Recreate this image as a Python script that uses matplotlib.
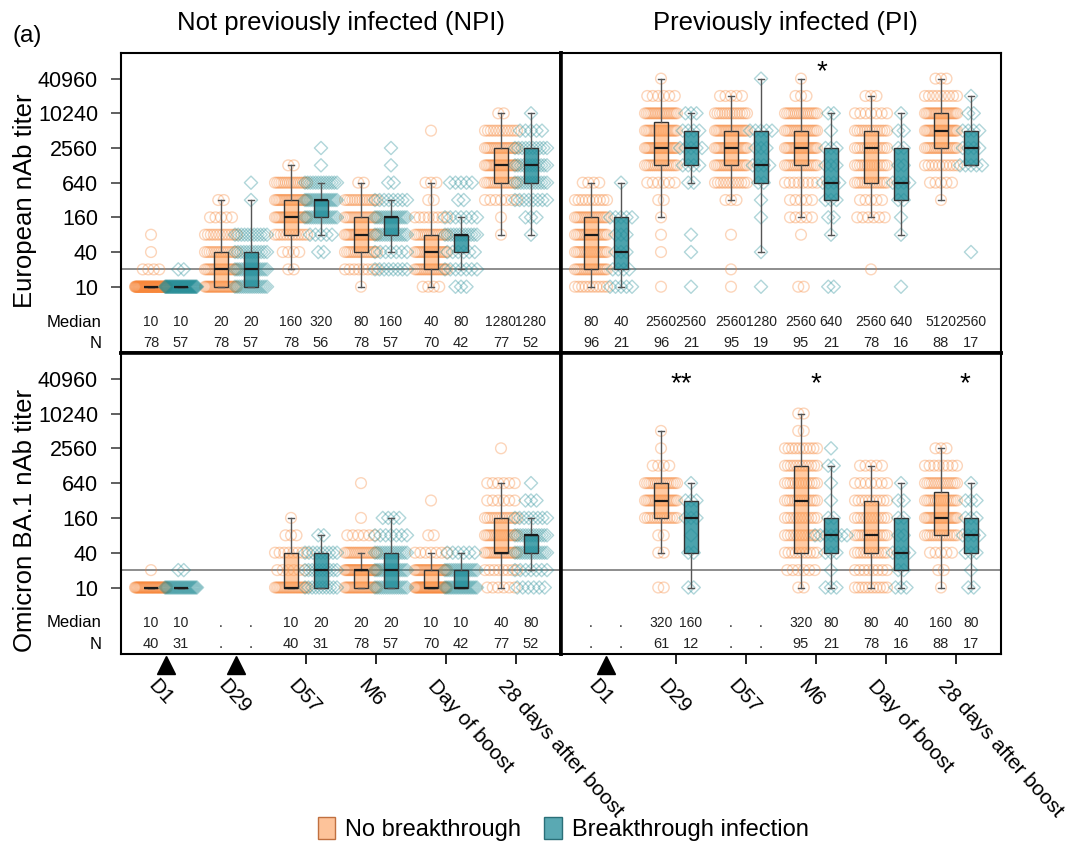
import numpy as np
import matplotlib.pyplot as plt
from matplotlib import transforms
from matplotlib.patches import Patch

plt.rcParams['font.family'] = ['Liberation Sans', 'DejaVu Sans']

timepoints = ['D1', 'D29', 'D57', 'M6', 'Day of boost', '28 days after boost']
ytick_vals = [10, 40, 160, 640, 2560, 10240, 40960]

# ---- European, not previously infected ----
eu_npi_nb_pts = [
    {10: 72, 20: 4, 40: 1, 80: 1},
    {10: 25, 20: 19, 40: 15, 80: 12, 160: 5, 320: 2},
    {20: 2, 40: 4, 80: 12, 160: 21, 320: 21, 640: 16, 1280: 2},
    {10: 1, 20: 8, 40: 16, 80: 20, 160: 17, 320: 14, 640: 2},
    {10: 4, 20: 18, 40: 18, 80: 16, 160: 8, 320: 2, 640: 3, 5120: 1},
    {80: 1, 160: 1, 320: 7, 640: 16, 1280: 20, 2560: 18, 5120: 12, 10240: 2},
]
eu_npi_bt_pts = [
    {10: 55, 20: 2},
    {10: 16, 20: 16, 40: 12, 80: 11, 320: 1, 640: 1},
    {40: 2, 80: 5, 160: 16, 320: 18, 640: 13, 1280: 1, 2560: 1},
    {20: 8, 40: 7, 80: 14, 160: 16, 320: 8, 640: 2, 1280: 1, 2560: 1},
    {10: 3, 20: 7, 40: 6, 80: 12, 160: 7, 320: 2, 640: 5},
    {80: 1, 160: 3, 320: 8, 640: 12, 1280: 12, 2560: 10, 5120: 5, 10240: 1},
]
# (whisker low, q1, median, q3, whisker high)
eu_npi_nb_box = [(10, 10, 10, 10, 10), (10, 10, 20, 40, 320), (20, 80, 160, 320, 1280),
                 (10, 40, 80, 160, 640), (10, 20, 40, 80, 640), (80, 640, 1280, 2560, 10240)]
eu_npi_bt_box = [(10, 10, 10, 10, 10), (10, 10, 20, 40, 320), (80, 160, 320, 320, 640),
                 (40, 80, 160, 160, 320), (20, 40, 80, 80, 160), (80, 640, 1280, 2560, 10240)]
eu_npi_nb_med = ['10', '20', '160', '80', '40', '1280']
eu_npi_bt_med = ['10', '20', '320', '160', '80', '1280']
eu_npi_nb_n = ['78', '78', '78', '78', '70', '77']
eu_npi_bt_n = ['57', '57', '56', '57', '42', '52']

# ---- European, previously infected ----
eu_pi_nb_pts = [
    {10: 10, 20: 18, 40: 18, 80: 18, 160: 18, 320: 10, 640: 4},
    {10: 1, 40: 1, 80: 1, 160: 1, 320: 2, 640: 6, 1280: 16, 2560: 22, 5120: 20, 10240: 19, 20480: 6, 40960: 1},
    {10: 1, 20: 1, 80: 1, 320: 3, 640: 12, 1280: 18, 2560: 20, 5120: 20, 10240: 14, 20480: 5},
    {10: 2, 80: 1, 160: 5, 320: 5, 640: 8, 1280: 16, 2560: 20, 5120: 18, 10240: 16, 20480: 3, 40960: 1},
    {20: 1, 160: 6, 320: 5, 640: 14, 1280: 14, 2560: 14, 5120: 14, 10240: 7, 20480: 3},
    {320: 1, 640: 5, 1280: 10, 2560: 18, 5120: 22, 10240: 20, 20480: 9, 40960: 3},
]
eu_pi_bt_pts = [
    {10: 5, 20: 4, 40: 3, 80: 3, 160: 5, 640: 1},
    {10: 1, 40: 1, 80: 1, 640: 2, 1280: 4, 2560: 5, 5120: 4, 10240: 3},
    {10: 1, 40: 1, 160: 1, 320: 1, 640: 2, 1280: 4, 2560: 3, 5120: 5, 40960: 1},
    {10: 2, 80: 1, 160: 2, 320: 3, 640: 4, 1280: 3, 2560: 3, 5120: 1, 10240: 2},
    {10: 1, 80: 1, 160: 1, 320: 2, 640: 4, 1280: 2, 2560: 2, 5120: 2, 10240: 1},
    {40: 1, 1280: 5, 2560: 4, 5120: 4, 10240: 2, 20480: 1},
]
eu_pi_nb_box = [(10, 20, 80, 160, 640), (160, 1280, 2560, 7240, 40960), (320, 1280, 2560, 5120, 20480),
                (160, 1280, 2560, 5120, 40960), (160, 640, 2560, 5120, 20480), (320, 2560, 5120, 10240, 40960)]
eu_pi_bt_box = [(10, 20, 40, 160, 640), (640, 1280, 2560, 5120, 10240), (40, 640, 1280, 5120, 40960),
                (80, 320, 640, 2560, 10240), (80, 320, 640, 2560, 10240), (1280, 1280, 2560, 5120, 20480)]
eu_pi_nb_med = ['80', '2560', '2560', '2560', '2560', '5120']
eu_pi_bt_med = ['40', '2560', '1280', '640', '640', '2560']
eu_pi_nb_n = ['96', '96', '95', '95', '78', '88']
eu_pi_bt_n = ['21', '21', '19', '21', '16', '17']

# ---- Omicron BA.1, not previously infected ----
om_npi_nb_pts = [
    {10: 39, 20: 1},
    {},
    {10: 22, 20: 6, 40: 8, 80: 3, 160: 1},
    {10: 24, 20: 28, 40: 18, 80: 6, 160: 1, 640: 1},
    {10: 36, 20: 24, 40: 7, 80: 2, 320: 1},
    {10: 6, 20: 8, 40: 18, 80: 18, 160: 14, 320: 6, 640: 6, 2560: 1},
]
om_npi_bt_pts = [
    {10: 29, 20: 2},
    {},
    {10: 10, 20: 10, 40: 9, 80: 2},
    {10: 16, 20: 16, 40: 14, 80: 7, 160: 4},
    {10: 20, 20: 16, 40: 6},
    {10: 6, 20: 7, 40: 14, 80: 13, 160: 8, 320: 3, 640: 1},
]
om_npi_nb_box = [(10, 10, 10, 10, 10), None, (10, 10, 10, 40, 160),
                 (10, 10, 20, 20, 40), (10, 10, 10, 20, 40), (10, 40, 40, 160, 640)]
om_npi_bt_box = [(10, 10, 10, 10, 10), None, (10, 10, 20, 40, 80),
                 (10, 10, 20, 40, 160), (10, 10, 10, 20, 40), (20, 40, 80, 80, 160)]
om_npi_nb_med = ['10', '.', '10', '20', '10', '40']
om_npi_bt_med = ['10', '.', '20', '20', '10', '80']
om_npi_nb_n = ['40', '.', '40', '78', '70', '77']
om_npi_bt_n = ['31', '.', '31', '57', '42', '52']

# ---- Omicron BA.1, previously infected ----
om_pi_nb_pts = [
    {},
    {10: 2, 40: 2, 80: 2, 160: 14, 320: 19, 640: 16, 1280: 4, 2560: 1, 5120: 1},
    {},
    {10: 2, 20: 6, 40: 10, 80: 12, 160: 12, 320: 14, 640: 13, 1280: 12, 2560: 10, 5120: 2, 10240: 2},
    {10: 10, 20: 8, 40: 12, 80: 14, 160: 12, 320: 10, 640: 7, 1280: 5},
    {10: 1, 20: 2, 40: 5, 80: 14, 160: 20, 320: 16, 640: 15, 1280: 8, 2560: 3},
]
om_pi_bt_pts = [
    {},
    {10: 2, 40: 2, 80: 1, 160: 3, 320: 3, 640: 1},
    {},
    {10: 3, 20: 1, 40: 3, 80: 7, 160: 2, 320: 1, 640: 1, 1280: 2, 2560: 1},
    {10: 3, 20: 2, 40: 4, 80: 2, 160: 2, 320: 2, 640: 1},
    {10: 2, 20: 1, 40: 3, 80: 4, 160: 3, 320: 3, 640: 1},
]
om_pi_nb_box = [None, (40, 160, 320, 640, 5120), None,
                (10, 40, 320, 1280, 10240), (10, 40, 80, 320, 1280), (10, 80, 160, 453, 2560)]
om_pi_bt_box = [None, (10, 40, 160, 320, 640), None,
                (10, 40, 80, 160, 1280), (10, 20, 40, 160, 640), (10, 40, 80, 160, 640)]
om_pi_nb_med = ['.', '320', '.', '320', '80', '160']
om_pi_bt_med = ['.', '160', '.', '80', '40', '80']
om_pi_nb_n = ['.', '61', '.', '95', '78', '88']
om_pi_bt_n = ['.', '12', '.', '21', '16', '17']

nb_color = '#f7873a'
bt_color = '#1f8a94'
group_px = 70.0          # pixel width of one timepoint group
offset = 15 / group_px   # half distance between the two boxes


def swarm(center, n):
    if n <= 1:
        return np.array([center] * n)
    step = min(5.5, 32.0 / (n - 1)) / group_px
    return center + (np.arange(n) - (n - 1) / 2) * step


def draw_points(ax, pts, sign, marker, color, size):
    for i, counts in enumerate(pts):
        for val, n in counts.items():
            xs = swarm(i + sign * offset, n)
            ax.scatter(xs, np.log2([val] * n), marker=marker, s=size, facecolors='none',
                       edgecolors=color, linewidths=1.0, alpha=0.35, zorder=2)


def draw_boxes(ax, boxes, sign, face):
    stats, pos = [], []
    for i, b in enumerate(boxes):
        if b is None:
            continue
        lo, q1, med, q3, hi = np.log2(b)
        stats.append(dict(whislo=lo, q1=q1, med=med, q3=q3, whishi=hi))
        pos.append(i + sign * offset)
    ax.bxp(stats, positions=pos, widths=0.19, capwidths=0.085, showfliers=False,
           patch_artist=True, manage_ticks=False, zorder=3,
           boxprops=dict(facecolor=face, edgecolor='#333333', linewidth=1.0),
           medianprops=dict(color='#1a1a1a', linewidth=1.6),
           whiskerprops=dict(color='#555555', linewidth=1.0),
           capprops=dict(color='#555555', linewidth=1.0))


def draw_panel(ax, nb_pts, bt_pts, nb_box, bt_box, nb_med, bt_med, nb_n, bt_n):
    draw_points(ax, nb_pts, -1, 'o', nb_color, 60)
    draw_points(ax, bt_pts, 1, 'D', bt_color, 45)
    draw_boxes(ax, nb_box, -1, (1.0, 0.63, 0.35, 0.55))
    draw_boxes(ax, bt_box, 1, (0.12, 0.55, 0.6, 0.8))
    ax.axhline(np.log2(20), color='#7a7a7a', linewidth=1.2, zorder=1)
    trans = transforms.blended_transform_factory(ax.transData, ax.transAxes)
    for i in range(len(timepoints)):
        for x, med, n in ((i - offset, nb_med[i], nb_n[i]), (i + offset, bt_med[i], bt_n[i])):
            ax.text(x, 0.103, med, transform=trans, ha='center', va='center',
                    fontsize=10, color='#222222')
            ax.text(x, 0.033, n, transform=trans, ha='center', va='center',
                    fontsize=10.5, color='#222222')
    ax.set_xlim(-0.643, 5.643)
    ax.set_ylim(-0.5, 16.8)
    ax.set_xticks(range(len(timepoints)))
    ax.set_yticks(np.log2(ytick_vals))
    for s in ax.spines.values():
        s.set_linewidth(1.5)


fig = plt.figure(figsize=(10.69, 8.42), dpi=100)
W, H = 1069.0, 842.0
ax_tl = fig.add_axes([121 / W, 1 - 353 / H, 440 / W, 300 / H])
ax_tr = fig.add_axes([561 / W, 1 - 353 / H, 440 / W, 300 / H])
ax_bl = fig.add_axes([121 / W, 1 - 654 / H, 440 / W, 301 / H])
ax_br = fig.add_axes([561 / W, 1 - 654 / H, 440 / W, 301 / H])

draw_panel(ax_tl, eu_npi_nb_pts, eu_npi_bt_pts, eu_npi_nb_box, eu_npi_bt_box,
           eu_npi_nb_med, eu_npi_bt_med, eu_npi_nb_n, eu_npi_bt_n)
draw_panel(ax_tr, eu_pi_nb_pts, eu_pi_bt_pts, eu_pi_nb_box, eu_pi_bt_box,
           eu_pi_nb_med, eu_pi_bt_med, eu_pi_nb_n, eu_pi_bt_n)
draw_panel(ax_bl, om_npi_nb_pts, om_npi_bt_pts, om_npi_nb_box, om_npi_bt_box,
           om_npi_nb_med, om_npi_bt_med, om_npi_nb_n, om_npi_bt_n)
draw_panel(ax_br, om_pi_nb_pts, om_pi_bt_pts, om_pi_nb_box, om_pi_bt_box,
           om_pi_nb_med, om_pi_bt_med, om_pi_nb_n, om_pi_bt_n)

# thicker separators between panels
ax_tl.spines['right'].set_linewidth(2.6)
ax_tl.spines['bottom'].set_linewidth(2.6)
ax_tr.spines['left'].set_linewidth(2.6)
ax_tr.spines['bottom'].set_linewidth(2.6)
ax_bl.spines['top'].set_linewidth(2.6)
ax_bl.spines['right'].set_linewidth(2.6)
ax_br.spines['top'].set_linewidth(2.6)
ax_br.spines['left'].set_linewidth(2.6)

for ax in (ax_tl, ax_bl):
    ax.set_yticklabels([str(v) for v in ytick_vals])
    ax.tick_params(axis='y', length=7, width=1.2, color='#444444', pad=9.5, labelsize=15.5)
    trans = transforms.blended_transform_factory(ax.transAxes, ax.transAxes)
    ax.text(-0.045, 0.103, 'Median', transform=trans, ha='right', va='center', fontsize=12)
    ax.text(-0.045, 0.033, 'N', transform=trans, ha='right', va='center', fontsize=12)
for ax in (ax_tr, ax_br):
    ax.tick_params(axis='y', left=False, labelleft=False)
for ax in (ax_tl, ax_tr):
    ax.tick_params(axis='x', bottom=False, labelbottom=False)

shift = transforms.ScaledTranslation(-8 / 100, 0, fig.dpi_scale_trans)
for ax, vaccinated in ((ax_bl, [0, 1]), (ax_br, [0])):
    ax.set_xticklabels(timepoints, rotation=-48, ha='left', va='top', rotation_mode='anchor')
    ax.tick_params(axis='x', length=7, width=1.2, color='black', pad=9, labelsize=15)
    for lab in ax.get_xticklabels():
        lab.set_transform(lab.get_transform() + shift)
    ticks = ax.xaxis.get_major_ticks()
    trans = transforms.blended_transform_factory(ax.transData, ax.transAxes)
    for i in vaccinated:
        ticks[i].tick1line.set_visible(False)
        ax.plot(i, -0.036, marker='^', markersize=13, color='black', transform=trans,
                clip_on=False, zorder=5)

# significance marks
ax_tr.text(3.08, 15.7, '*', ha='center', va='center', fontsize=20)
ax_br.text(1.08, 15.0, '**', ha='center', va='center', fontsize=20)
ax_br.text(3.0, 15.0, '*', ha='center', va='center', fontsize=20)
ax_br.text(5.12, 15.0, '*', ha='center', va='center', fontsize=20)

fig.text(341 / W, 1 - 23 / H, 'Not previously infected (NPI)', ha='center', va='center', fontsize=18.5)
fig.text(785 / W, 1 - 23 / H, 'Previously infected (PI)', ha='center', va='center', fontsize=18.5)
fig.text(12 / W, 1 - 36 / H, '(a)', ha='left', va='center', fontsize=17.5)
fig.text(25 / W, 1 - 201 / H, 'European nAb titer', rotation=90, ha='center', va='center', fontsize=18.5)
fig.text(25 / W, 1 - 520 / H, 'Omicron BA.1 nAb titer', rotation=90, ha='center', va='center', fontsize=18.5)

handles = [Patch(facecolor='#fdc39a', edgecolor='#c07040', label='No breakthrough'),
           Patch(facecolor='#5aa9b3', edgecolor='#2a6f78', label='Breakthrough infection')]
fig.legend(handles=handles, loc='center', bbox_to_anchor=(563 / W, 1 - 829 / H), ncol=2,
           frameon=False, fontsize=17, handlelength=0.75, handleheight=1.1,
           handletextpad=0.4, columnspacing=1.0)

fig.savefig('out.png', dpi=100)
